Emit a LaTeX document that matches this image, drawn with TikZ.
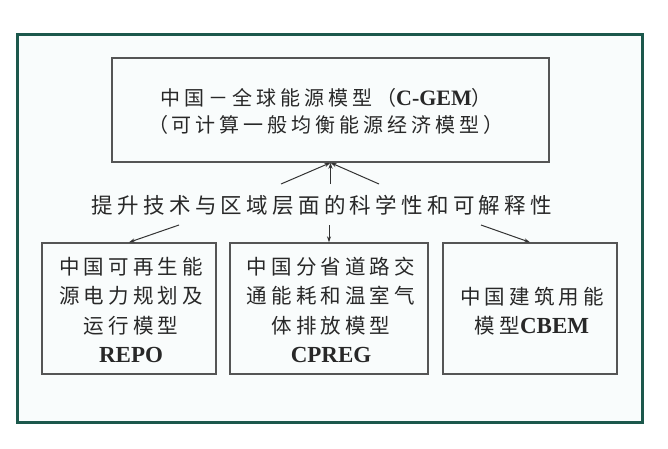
\documentclass[tikz,border=0pt]{standalone}
\usepackage{fontspec}
\setmainfont{Liberation Serif}
\newfontfamily\cjk[LetterSpace=20]{Noto Sans CJK SC}
\usetikzlibrary{arrows.meta}
\definecolor{framec}{RGB}{28,88,76}
\definecolor{boxc}{RGB}{85,85,85}
\definecolor{txtc}{RGB}{40,40,40}
\definecolor{bgc}{RGB}{249,252,252}
\begin{document}
\begin{tikzpicture}[x=1pt,y=-1pt,
  box/.style={draw=boxc, line width=1.4pt, inner sep=0pt, align=center, text=txtc},
  cn/.style={font=\fontsize{20.5}{29.5}\selectfont\cjk, text=txtc, align=center, inner sep=0pt},
  conn/.style={draw=black!80, line width=1pt, -{Stealth[length=6pt,width=4pt]}}]
\fill[white] (0,0) rectangle (668,448);
\useasboundingbox (0,0) rectangle (668,448);
\node[draw=framec, fill=bgc, line width=3pt, minimum width=625pt, minimum height=388pt, inner sep=0pt] (outer) at (329.5,228) {};
\node[box, minimum width=437pt, minimum height=104pt] (top) at (330.5,110) {};
\node[cn, font=\fontsize{20}{27}\selectfont\cjk] (toptxt) at (326,111.5) {中国－全球能源模型（{\rmfamily\bfseries\fontsize{22}{27}\selectfont C-GEM}）\\（可计算一般均衡能源经济模型）};
\node[cn, font=\fontsize{21.5}{27}\selectfont\cjk] (mid) at (322,205) {提升技术与区域层面的科学性和可解释性};
\node[box, minimum width=174pt, minimum height=131pt] (b1) at (129,308.5) {};
\node[box, minimum width=198pt, minimum height=131pt] (b2) at (329,308.5) {};
\node[box, minimum width=174pt, minimum height=131pt] (b3) at (530,308.5) {};
\node[cn] (t1) at (131,310) {中国可再生能\\源电力规划及\\运行模型\\{\rmfamily\bfseries\fontsize{23}{29.5}\selectfont REPO}};
\node[cn] (t2) at (331,310) {中国分省道路交\\通能耗和温室气\\体排放模型\\{\rmfamily\bfseries\fontsize{23}{29.5}\selectfont CPREG}};
\node[cn] (t3) at (532,311) {中国建筑用能\\模型{\rmfamily\bfseries\fontsize{23}{29.5}\selectfont CBEM}};
\coordinate (ul) at (281,184);
\coordinate (um) at (330.5,184);
\coordinate (ur) at (379,184);
\coordinate (dl) at (179,225);
\coordinate (dm) at (329,225);
\coordinate (dr) at (481,225);
\draw[conn] (ul) -- (top.south);
\draw[conn] (um) -- (top.south);
\draw[conn] (ur) -- (top.south);
\draw[conn] (dl) -- (b1.north);
\draw[conn] (dm) -- (b2.north);
\draw[conn] (dr) -- (b3.north);
\end{tikzpicture}
\end{document}
